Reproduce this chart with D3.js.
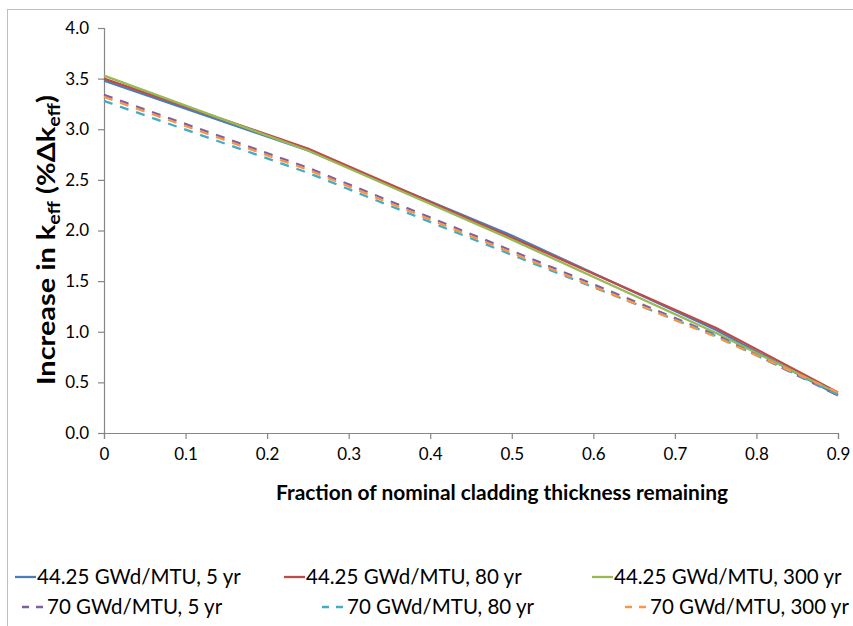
<!DOCTYPE html>
<html>
<head>
<meta charset="utf-8">
<script src="https://cdn.jsdelivr.net/npm/d3@7"></script>
<style>
  html, body { margin: 0; padding: 0; background: #fff; }
  svg { display: block; }
  text { font-family: Lato, "Open Sans", sans-serif; fill: #000; }
</style>
</head>
<body>
<svg id="chart" width="853" height="626"></svg>
<script>
// Fraction of nominal cladding thickness remaining
const fractions = [0, 0.25, 0.5, 0.75, 0.9];

// Increase in k_eff (%Δk_eff) for each burnup / cooling-time case
const seriesNames = [
  "44.25 GWd/MTU, 5 yr",
  "44.25 GWd/MTU, 80 yr",
  "44.25 GWd/MTU, 300 yr",
  "70 GWd/MTU, 5 yr",
  "70 GWd/MTU, 80 yr",
  "70 GWd/MTU, 300 yr"
];
const bu44_5yr   = [3.48, 2.79, 1.95, 1.02, 0.37];
const bu44_80yr  = [3.50, 2.81, 1.93, 1.04, 0.40];
const bu44_300yr = [3.53, 2.79, 1.91, 0.99, 0.39];
const bu70_5yr   = [3.34, 2.62, 1.80, 0.97, 0.37];
const bu70_80yr  = [3.28, 2.57, 1.76, 0.96, 0.38];
const bu70_300yr = [3.32, 2.60, 1.78, 0.95, 0.40];

const seriesColors = ["#4A7EBB", "#BE4B48", "#98B954", "#7D60A0", "#46AAC5", "#F79646"];
const seriesDashed = [false, false, false, true, true, true];

const xTicks = [0, 0.1, 0.2, 0.3, 0.4, 0.5, 0.6, 0.7, 0.8, 0.9];
const yTicks = [0, 0.5, 1.0, 1.5, 2.0, 2.5, 3.0, 3.5, 4.0];

const series = [bu44_5yr, bu44_80yr, bu44_300yr, bu70_5yr, bu70_80yr, bu70_300yr]
  .map((vals, i) => ({
    name: seriesNames[i],
    color: seriesColors[i],
    dashed: seriesDashed[i],
    points: vals.map((v, j) => ({ x: fractions[j], y: v }))
  }));

const svg = d3.select("#chart");

// outer chart frame
svg.append("rect")
  .attr("x", 7.5).attr("y", 9.5)
  .attr("width", 900).attr("height", 700)
  .attr("fill", "none").attr("stroke", "#BFBFBF").attr("stroke-width", 1);

const plot = { left: 104, right: 838, top: 28, bottom: 433 };

const x = d3.scaleLinear().domain([0, 0.9]).range([plot.left, plot.right]);
const y = d3.scaleLinear().domain([0, 4]).range([plot.bottom, plot.top]);

const axisColor = "#868686";

// y axis
const yAxis = svg.append("g")
  .attr("transform", `translate(${plot.left},0)`)
  .call(d3.axisLeft(y).tickValues(yTicks).tickFormat(d3.format(".1f")).tickSize(6).tickPadding(9));
yAxis.select(".domain").attr("stroke", axisColor).attr("stroke-width", 1.2);
yAxis.selectAll(".tick line").attr("stroke", axisColor).attr("stroke-width", 1.2);
yAxis.selectAll(".tick text")
  .attr("font-size", 17).attr("font-family", "Lato, sans-serif").attr("fill", "#000");

// x axis
const xAxis = svg.append("g")
  .attr("transform", `translate(0,${plot.bottom})`)
  .call(d3.axisBottom(x).tickValues(xTicks).tickFormat(d => d === 0 ? "0" : d3.format(".1f")(d)).tickSize(6).tickPadding(9));
xAxis.select(".domain").attr("stroke", axisColor).attr("stroke-width", 1.2);
xAxis.selectAll(".tick line").attr("stroke", axisColor).attr("stroke-width", 1.2);
xAxis.selectAll(".tick text")
  .attr("font-size", 17).attr("font-family", "Lato, sans-serif").attr("fill", "#000");

// axis titles
svg.append("text")
  .attr("x", (plot.left + plot.right) / 2 + 31).attr("y", 500)
  .attr("text-anchor", "middle")
  .attr("font-size", 21).attr("font-weight", "bold")
  .attr("textLength", 452).attr("lengthAdjust", "spacingAndGlyphs")
  .text("Fraction of nominal cladding thickness remaining");

const yTitle = svg.append("text")
  .attr("transform", "translate(55,240) rotate(-90)")
  .attr("text-anchor", "middle")
  .attr("font-size", 25).attr("font-weight", "bold")
  .attr("textLength", 290).attr("lengthAdjust", "spacingAndGlyphs");
yTitle.append("tspan").text("Increase in k");
yTitle.append("tspan").attr("font-size", 17).attr("dy", 5).text("eff");
yTitle.append("tspan").attr("dy", -5).text(" (%Δk");
yTitle.append("tspan").attr("font-size", 17).attr("dy", 5).text("eff");
yTitle.append("tspan").attr("dy", -5).text(")");

// data lines
const line = d3.line().x(d => x(d.x)).y(d => y(d.y));
svg.append("g").selectAll("path")
  .data(series)
  .join("path")
  .attr("d", d => line(d.points))
  .attr("fill", "none")
  .attr("stroke", d => d.color)
  .attr("stroke-width", 2.3)
  .attr("stroke-linejoin", "round")
  .attr("stroke-dasharray", d => d.dashed ? "9,8" : null);

// legend
const legendPos = [
  { lx: 15, ly: 577 }, { lx: 284, ly: 577 }, { lx: 592, ly: 577 },
  { lx: 22, ly: 607 }, { lx: 322, ly: 607 }, { lx: 625, ly: 607 }
];
const legend = svg.append("g").selectAll("g")
  .data(series)
  .join("g")
  .attr("transform", (d, i) => `translate(${legendPos[i].lx},${legendPos[i].ly})`);
legend.append("line")
  .attr("x1", 0).attr("x2", d => d.dashed ? 24 : 21)
  .attr("y1", 0).attr("y2", 0)
  .attr("stroke", d => d.color).attr("stroke-width", 2.3)
  .attr("stroke-dasharray", d => d.dashed ? "7,7" : null);
legend.append("text")
  .attr("x", d => d.dashed ? 25 : 22).attr("y", 0).attr("dy", "0.35em")
  .attr("font-size", 20.5)
  .text(d => d.name);
</script>
</body>
</html>
